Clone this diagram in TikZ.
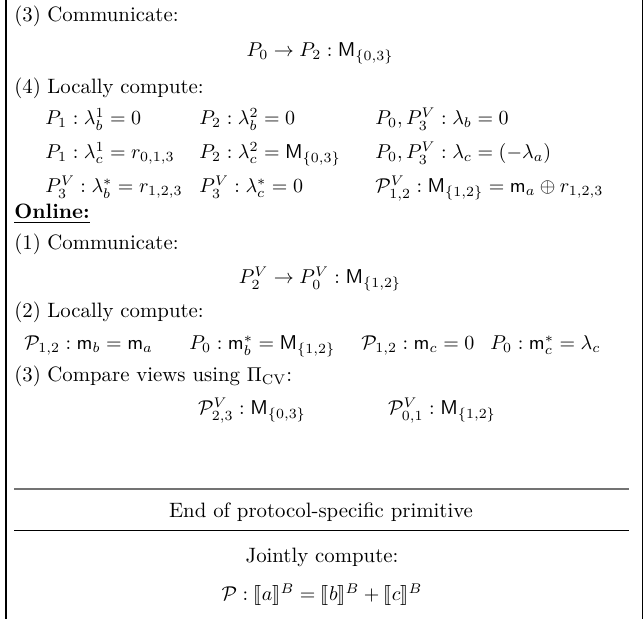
\documentclass[tikz,border=0pt]{standalone}
\usepackage{amsmath,amssymb,stmaryrd}
\begin{document}
\begin{tikzpicture}[x=0.5pt,y=-0.5pt,
  txt/.style={inner sep=0pt, anchor=base west, font=\fontsize{10.4}{12.5}\selectfont},
  ctr/.style={inner sep=0pt, anchor=base, font=\fontsize{10.4}{12.5}\selectfont},
  leftrule/.style={line width=1pt},
  rightrule/.style={line width=0.6pt},
  seprule/.style={line width=0.5pt},
  softrule/.style={line width=0.8pt, black!55}]
\useasboundingbox (0,0) rectangle (644,619);

% frame sides
\coordinate (lt) at (6,0);   \coordinate (lb) at (6,619);
\coordinate (rt) at (642.5,0); \coordinate (rb) at (642.5,619);
\draw[leftrule] (lt) -- (lb);
\draw[rightrule] (rt) -- (rb);

% ---- offline, step 3
\node[txt] (n3) at (14,22) {(3)};
\node[txt] (t3) at (47,22) {Communicate:};
\node[ctr] (c3) at (320,57) {$P_0 \rightarrow P_2 : \mathsf{M}_{\{0,3\}}$};

% ---- offline, step 4
\node[txt] (n4) at (14,94) {(4)};
\node[txt] (t4) at (47,94) {Locally compute:};
\node[txt] (a11) at (45,125) {$P_1 : \lambda_b^1 = 0$};
\node[txt] (a12) at (199,125) {$P_2 : \lambda_b^2 = 0$};
\node[txt] (a13) at (375,125) {$P_0, P_3^V : \lambda_b = 0$};
\node[txt] (a21) at (45,159) {$P_1 : \lambda_c^1 = r_{0,1,3}$};
\node[txt] (a22) at (199,159) {$P_2 : \lambda_c^2 = \mathsf{M}_{\{0,3\}}$};
\node[txt] (a23) at (375,159) {$P_0, P_3^V : \lambda_c = (-\lambda_a)$};
\node[txt] (a31) at (45,193) {$P_3^V : \lambda_b^* = r_{1,2,3}$};
\node[txt] (a32) at (199,193) {$P_3^V : \lambda_c^* = 0$};
\node[txt] (a33) at (375,193) {$\mathcal{P}_{1,2}^V : \mathsf{M}_{\{1,2\}} = \mathsf{m}_a \oplus r_{1,2,3}$};

% ---- online phase
\node[txt] (on) at (14,219) {\underline{\textbf{Online:}}};
\node[txt] (m1) at (14,250) {(1)};
\node[txt] (u1) at (47,250) {Communicate:};
\node[ctr] (c1) at (320,284) {$P_2^V \rightarrow P_0^V : \mathsf{M}_{\{1,2\}}$};
\node[txt] (m2) at (14,318) {(2)};
\node[txt] (u2) at (47,318) {Locally compute:};
\node[txt] (b1) at (24,350) {$\mathcal{P}_{1,2} : \mathsf{m}_b = \mathsf{m}_a$};
\node[txt] (b2) at (189,350) {$P_0 : \mathsf{m}_b^* = \mathsf{M}_{\{1,2\}}$};
\node[txt] (b3) at (361,350) {$\mathcal{P}_{1,2} : \mathsf{m}_c = 0$};
\node[txt] (b4) at (490,350) {$P_0 : \mathsf{m}_c^* = \lambda_c$};
\node[txt] (m3) at (14,382) {(3)};
\node[txt] (u3) at (47,382) {Compare views using $\Pi_{\mathrm{CV}}$:};
\node[ctr] (v1) at (252,415) {$\mathcal{P}_{2,3}^V : \mathsf{M}_{\{0,3\}}$};
\node[ctr] (v2) at (442,415) {$\mathcal{P}_{0,1}^V : \mathsf{M}_{\{1,2\}}$};

% ---- closing part
\coordinate (s1l) at (14,489); \coordinate (s1r) at (629,489);
\draw[softrule] (s1l) -- (s1r);
\node[ctr] (end) at (321,518) {End of protocol-specific primitive};
\coordinate (s2l) at (14,531); \coordinate (s2r) at (629,531);
\draw[seprule] (s2l) -- (s2r);
\node[ctr] (jc) at (322,563) {Jointly compute:};
\node[ctr] (fin) at (322,601) {$\mathcal{P} : \llbracket a \rrbracket^B = \llbracket b \rrbracket^B + \llbracket c \rrbracket^B$};
\end{tikzpicture}
\end{document}
